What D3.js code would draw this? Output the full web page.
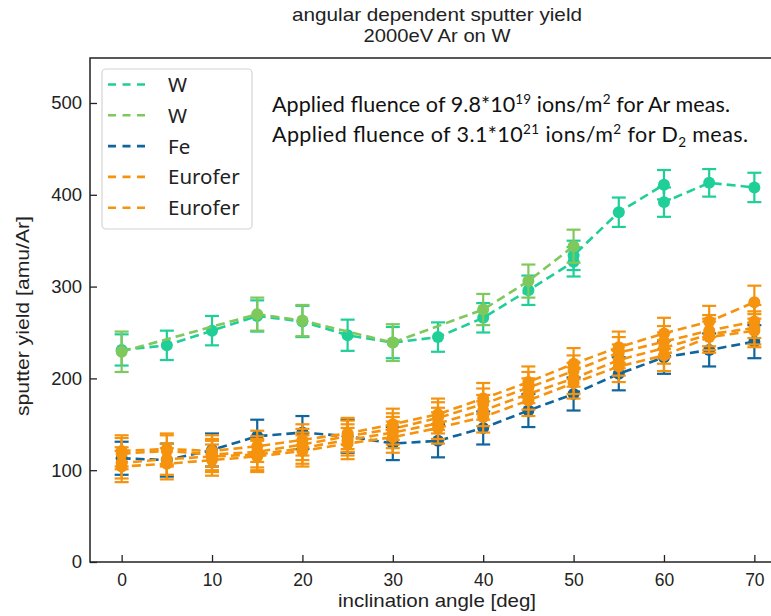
<!DOCTYPE html>
<html>
<head>
<meta charset="utf-8">
<script src="https://cdn.jsdelivr.net/npm/d3@7"></script>
<style>
  body { margin: 0; background: #fff; }
  svg { display: block; }
</style>
</head>
<body>
<svg id="chart" width="771" height="616"></svg>
<script>
// sweep angles (deg)
const angles = [0, 5, 10, 15, 20, 25, 30, 35, 40, 45, 50, 55, 60, 65, 70];

// W (teal) - repeated points at 50 and 60 deg
const wAngles = [0, 5, 10, 15, 20, 25, 30, 35, 40, 45, 50, 50, 55, 60, 60, 65, 70];
const wYield = [231, 236, 252, 268, 262, 247, 239, 245, 266, 296, 327, 334, 381, 411, 392, 413, 408];
const wErr = [17, 16, 16, 17, 17, 17, 17, 16, 16, 16, 16, 16, 16, 16, 16, 15, 16];

// W (green)
const w2Angles = [0, 15, 20, 30, 40, 45, 50];
const w2Yield = [229, 270, 263, 239, 275, 306, 344];
const w2Err = [22, 18, 17, 20, 17, 18, 18];

// Fe
const feYield = [113, 111, 122, 137, 141, 137, 129, 132, 146, 165, 183, 205, 223, 231, 240];
const feErr = [18, 18, 18, 18, 18, 18, 18, 18, 18, 18, 18, 18, 18, 18, 18];

// Eurofer, two runs, each up and down sweep
const euro1Up = [121, 123, 121, 126, 133, 140, 150, 161, 178, 196, 216, 234, 249, 262, 283];
const euro1Down = [104, 107, 111, 115, 121, 129, 136, 146, 158, 176, 195, 213, 225, 245, 252];
const euro2Up = [118, 121, 117, 120, 128, 137, 145, 157, 172, 190, 208, 228, 240, 252, 262];
const euro2Down = [108, 112, 115, 117, 124, 133, 141, 151, 165, 183, 200, 220, 233, 248, 255];
const euroErr = [17, 17, 17, 17, 17, 17, 17, 17, 17, 17, 17, 17, 17, 17, 18];

const xTicks = [0, 10, 20, 30, 40, 50, 60, 70];
const yTicks = [0, 100, 200, 300, 400, 500];
const legendNames = ["W", "W", "Fe", "Eurofer", "Eurofer"];

const C = {teal: "#1fcf97", green: "#7fc85c", blue: "#0f659c", orange: "#f5930e"};
const sans = "Liberation Sans, Arial, sans-serif";

const svg = d3.select("#chart");
const m = {left: 90, right: 786, top: 58, bottom: 562};

const x = d3.scaleLinear().domain([-3.5, 73.5]).range([m.left, m.right]);
const y = d3.scaleLinear().domain([0, 549]).range([m.bottom, m.top]);

const zip = (a, v, e) => a.map((t, i) => ({a: t, v: v[i], e: e[i]}));
const rev = arr => arr.slice().reverse();

const series = [
  {name: legendNames[0], color: C.teal, pts: zip(wAngles, wYield, wErr)},
  {name: legendNames[1], color: C.green, pts: zip(w2Angles, w2Yield, w2Err)},
  {name: legendNames[2], color: C.blue, pts: zip(angles, feYield, feErr)},
  {name: legendNames[3], color: C.orange, pts: zip(angles, euro1Up, euroErr).concat(zip(rev(angles), rev(euro1Down), rev(euroErr)))},
  {name: legendNames[4], color: C.orange, pts: zip(angles, euro2Up, euroErr).concat(zip(rev(angles), rev(euro2Down), rev(euroErr)))}
];

// plain centred labels, stretched to the widths seen in the original
const label = (xx, yy, txt, size, len) => svg.append("text").attr("x", xx).attr("y", yy).attr("text-anchor", "middle")
  .attr("font-family", sans).attr("font-size", size).attr("fill", "#222")
  .attr("textLength", len).attr("lengthAdjust", "spacingAndGlyphs").text(txt);
label(437, 21, "angular dependent sputter yield", 18.5, 290);
label(437, 42, "2000eV Ar on W", 18.5, 147);

svg.append("defs").append("clipPath").attr("id", "clip")
  .append("rect").attr("x", m.left).attr("y", m.top).attr("width", m.right - m.left).attr("height", m.bottom - m.top);

const plot = svg.append("g").attr("clip-path", "url(#clip)");
const line = d3.line().x(d => x(d.a)).y(d => y(d.v));

series.forEach(s => {
  const g = plot.append("g");
  g.append("path").datum(s.pts).attr("fill", "none").attr("stroke", s.color)
    .attr("stroke-width", 2.6).attr("stroke-dasharray", "9,5").attr("d", line);
  const eb = g.selectAll("g.eb").data(s.pts).enter().append("g").attr("stroke", s.color).attr("stroke-width", 2.2);
  eb.append("line").attr("x1", d => x(d.a)).attr("x2", d => x(d.a)).attr("y1", d => y(d.v - d.e)).attr("y2", d => y(d.v + d.e));
  eb.append("line").attr("x1", d => x(d.a) - 7).attr("x2", d => x(d.a) + 7).attr("y1", d => y(d.v + d.e)).attr("y2", d => y(d.v + d.e));
  eb.append("line").attr("x1", d => x(d.a) - 7).attr("x2", d => x(d.a) + 7).attr("y1", d => y(d.v - d.e)).attr("y2", d => y(d.v - d.e));
  g.selectAll("circle").data(s.pts).enter().append("circle")
    .attr("cx", d => x(d.a)).attr("cy", d => y(d.v)).attr("r", 6).attr("fill", s.color);
});

// axes, ticks pointing inward
const ax = svg.append("g").attr("font-family", sans).attr("fill", "#222");
ax.append("g").attr("transform", "translate(0," + m.bottom + ")")
  .call(d3.axisBottom(x).tickValues(xTicks).tickSizeInner(-7).tickSizeOuter(0).tickPadding(12))
  .call(g => g.select(".domain").remove())
  .call(g => g.selectAll("text").attr("font-family", sans).attr("font-size", 17.5).attr("fill", "#222"))
  .call(g => g.selectAll("line").attr("stroke", "#222").attr("stroke-width", 1.3));
ax.append("g").attr("transform", "translate(" + m.left + ",0)")
  .call(d3.axisLeft(y).tickValues(yTicks).tickSizeInner(-7).tickSizeOuter(0).tickPadding(8))
  .call(g => g.select(".domain").remove())
  .call(g => g.selectAll("text").attr("font-family", sans).attr("font-size", 18.5).attr("fill", "#222"))
  .call(g => g.selectAll("line").attr("stroke", "#222").attr("stroke-width", 1.3));
svg.append("rect").attr("x", m.left).attr("y", m.top).attr("width", m.right - m.left).attr("height", m.bottom - m.top)
  .attr("fill", "none").attr("stroke", "#222").attr("stroke-width", 1.5);

label(437, 607, "inclination angle [deg]", 18.5, 198);
svg.append("text").attr("transform", "translate(29," + 316 + ") rotate(-90)").attr("text-anchor", "middle")
  .attr("font-family", sans).attr("font-size", 18.5).attr("fill", "#222")
  .attr("textLength", 200).attr("lengthAdjust", "spacingAndGlyphs")
  .text("sputter yield [amu/Ar]");

// legend
const lg = svg.append("g").attr("font-family", "Noto Sans, Open Sans, sans-serif");
lg.append("rect").attr("x", 102).attr("y", 69).attr("width", 150).attr("height", 160).attr("rx", 4)
  .attr("fill", "#fff").attr("fill-opacity", 0.85).attr("stroke", "#d4d4d4").attr("stroke-width", 1.2);
series.forEach((s, i) => {
  const yy = 84.5 + i * 30.8;
  lg.append("line").attr("x1", 108).attr("x2", 150).attr("y1", yy).attr("y2", yy)
    .attr("stroke", s.color).attr("stroke-width", 2.6).attr("stroke-dasharray", "8,6.5");
  lg.append("text").attr("x", 168).attr("y", yy + 7.5).attr("font-size", 20.5).attr("fill", "#222").text(s.name);
});

// annotation
const note = svg.append("g").attr("font-family", "Lato, Open Sans, sans-serif").attr("font-size", 21.5).attr("fill", "#111");
const addNote = (yy, len, pre, exp, mid, tail, sub) => {
  const t = note.append("text").attr("x", 272).attr("y", yy)
    .attr("textLength", len).attr("lengthAdjust", "spacing");
  t.append("tspan").text(pre);
  t.append("tspan").attr("dy", -8).attr("font-size", 13.5).text(exp);
  t.append("tspan").attr("dy", 8).text(" ions/m");
  t.append("tspan").attr("dy", -8).attr("font-size", 13.5).text("2");
  t.append("tspan").attr("dy", 8).text(mid);
  if (sub) {
    t.append("tspan").attr("dy", 5).attr("font-size", 13.5).text(sub);
    t.append("tspan").attr("dy", -5).text(tail);
  }
};
addNote(112, 458, "Applied fluence of 9.8*10", "19", " for Ar meas.", "", null);
addNote(142, 476, "Applied fluence of 3.1*10", "21", " for D", " meas.", "2");
</script>
</body>
</html>
